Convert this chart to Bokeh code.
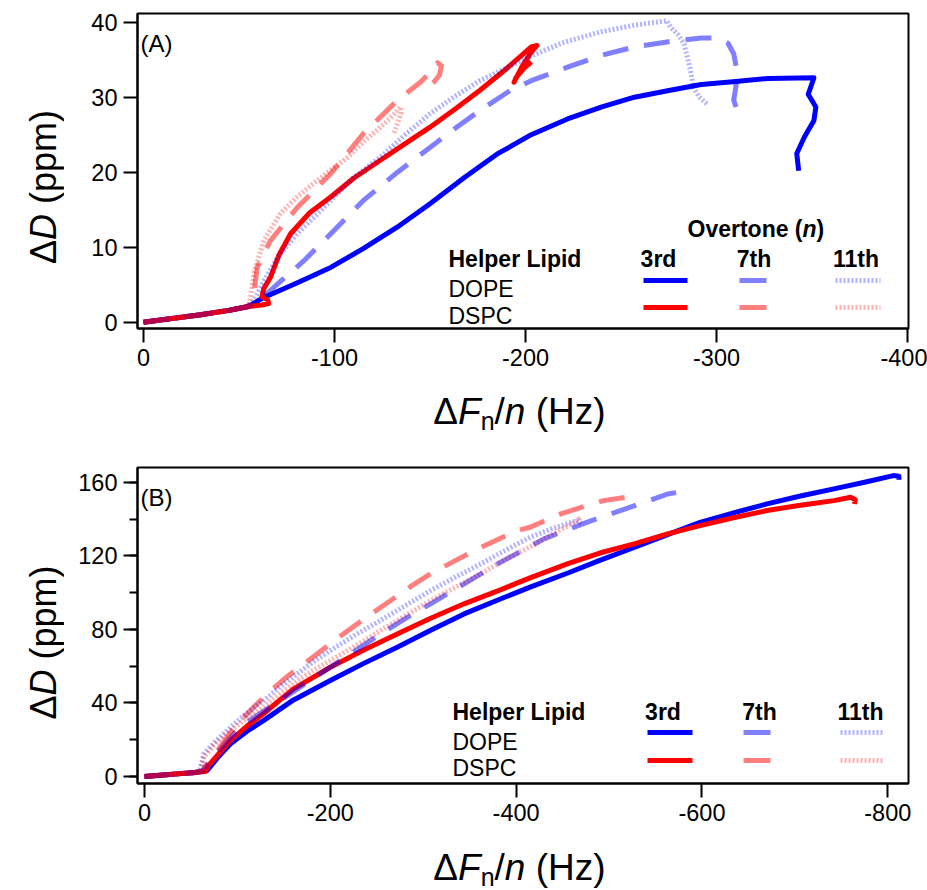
import math
from bokeh.plotting import figure
from bokeh.models import Range1d, SingleIntervalTicker, Label, PrintfTickFormatter
from bokeh.layouts import column, row
from bokeh.embed import file_html
from bokeh.resources import INLINE

# ---------------- data ----------------
# Panel A
a_dope_3_x = [0, -15, -30, -45, -55, -63, -80, -98, -115, -133, -150, -168, -185, -203, -222, -240, -257, -275, -292, -310, -327, -351, -348, -352, -351, -346, -342, -343]
a_dope_3_y = [0, 0.5, 1.0, 1.6, 2.1, 3.3, 5.2, 7.3, 9.8, 12.7, 15.8, 19.3, 22.4, 25.0, 27.1, 28.7, 30.0, 30.9, 31.7, 32.1, 32.5, 32.6, 30.4, 28.7, 26.9, 24.7, 22.5, 20.2]
a_dope_7_x = [0, -15, -30, -45, -55, -62, -72, -84, -100, -115, -133, -150, -165, -176, -192, -203, -222, -240, -257, -275, -292, -300, -306, -309, -311, -310, -309, -312.6]
a_dope_7_y = [0, 0.5, 1.0, 1.6, 2.1, 3.2, 5.5, 8.2, 12.3, 16.2, 20.0, 23.3, 26.2, 28.2, 30.9, 32.2, 34.0, 35.6, 36.7, 37.4, 37.9, 37.9, 37.2, 35.8, 33.1, 31.2, 29.6, 26.9]
a_dope_11_x = [0, -15, -30, -45, -55, -58, -63, -70, -80.5, -98, -110, -124, -137, -150, -163, -176, -190, -203, -220, -239, -257, -274, -276, -280, -283, -286, -288, -291, -295]
a_dope_11_y = [0, 0.5, 1.0, 1.6, 2.1, 3.0, 5.5, 8.6, 11.8, 16.2, 19.3, 22.0, 25.0, 27.8, 30.1, 32.2, 33.9, 35.5, 37.3, 38.7, 39.6, 40.2, 39.3, 38.3, 37.1, 34.0, 31.3, 30.0, 29.1]
a_dspc_3_x = [0, -15, -30, -45, -55, -62, -65.5, -65, -62, -63, -66.5, -71, -77, -87, -98, -110, -124, -137, -150, -163, -176, -190, -203, -206, -203, -198, -194, -195, -199, -203]
a_dspc_3_y = [0, 0.5, 1.0, 1.6, 2.1, 2.3, 2.5, 3.0, 3.4, 4.5, 6.0, 9.0, 11.8, 14.6, 16.7, 19.2, 21.6, 23.8, 26.0, 28.4, 30.9, 33.8, 36.7, 36.9, 36.0, 34.0, 32.0, 32.6, 33.8, 34.7]
a_dspc_7_x = [0, -15, -30, -45, -55, -57.8, -59.5, -66.5, -80.5, -98, -115, -133, -145, -150, -154, -156, -155, -152, -148, -146]
a_dspc_7_y = [0, 0.5, 1.0, 1.6, 2.1, 3.8, 7.3, 10.9, 15.3, 19.8, 25.1, 29.6, 32.0, 33.3, 34.6, 34.2, 33.0, 32.0, 31.0, 30.3]
a_dspc_11_x = [0, -15, -30, -45, -55, -56, -57.8, -63, -71.7, -80, -89, -98, -107, -115, -124, -130, -134.6, -135, -133, -131]
a_dspc_11_y = [0, 0.5, 1.0, 1.6, 2.1, 3.3, 6.5, 10.9, 14.5, 16.6, 18.5, 20.3, 22.0, 24.0, 26.0, 27.4, 28.7, 28.0, 26.5, 25.1]

# Panel B
b_dope_3_x = [0, -20, -40, -55, -62, -67.5, -80, -92.6, -110, -128, -160, -200, -236, -272, -308, -344, -383, -415, -455, -490, -527, -563, -598, -635, -670, -706, -742, -775, -806, -812, -812]
b_dope_3_y = [0, 0.8, 1.6, 2.2, 2.8, 3.3, 11.0, 17.8, 24.5, 30.4, 41.5, 52.2, 61.5, 70.3, 79.5, 88.4, 96.5, 103.0, 110.5, 117.5, 124.5, 131.5, 138.2, 143.5, 148.2, 152.5, 156.4, 160.0, 163.6, 163.2, 161.3]
b_dope_7_x = [0, -20, -40, -55, -62, -70, -80, -90, -103, -125, -146, -173, -200, -227, -254, -281, -308, -345, -380, -390, -430, -476, -523, -563, -574]
b_dope_7_y = [0, 0.8, 1.6, 2.2, 2.8, 8.0, 14.0, 20.0, 26.8, 34.5, 41.3, 50.5, 59.4, 68.5, 77.5, 86.0, 93.9, 105.0, 115.6, 118.3, 129.2, 138.2, 146.4, 153.6, 154.5]
b_dope_11_x = [0, -20, -40, -55, -60, -63.9, -75, -92.6, -110, -128.4, -146, -164.4, -182, -200, -227, -254, -281, -308, -335, -362, -383, -415, -440, -466, -470]
b_dope_11_y = [0, 0.8, 1.6, 2.2, 4.0, 12.3, 18.5, 26.8, 34.5, 41.3, 48.8, 55.8, 62.5, 68.5, 77.0, 84.8, 93.0, 101.1, 108.5, 115.6, 121.5, 130.1, 135.0, 139.3, 137.5]
b_dspc_3_x = [0, -20, -40, -55, -62, -66, -67.5, -80, -92.6, -110, -128, -160, -200, -236, -272, -308, -344, -383, -415, -455, -490, -527, -563, -598, -635, -670, -706, -742, -760, -765, -764]
b_dspc_3_y = [0, 0.8, 1.6, 2.2, 2.6, 2.9, 5.1, 12.5, 19.6, 27.3, 34.1, 47.5, 59.4, 68.8, 77.5, 86.0, 93.9, 101.5, 108.0, 115.6, 121.5, 126.5, 131.9, 136.4, 140.8, 144.6, 147.5, 150.0, 151.8, 150.5, 148.2]
b_dspc_7_x = [0, -20, -40, -55, -62, -70, -80, -90, -100, -118, -136, -154, -172, -193, -214, -240, -265, -287, -308, -335, -362, -401, -415, -448, -494, -523]
b_dspc_7_y = [0, 0.8, 1.6, 2.2, 2.8, 8.5, 15.0, 22.0, 28.6, 38.0, 46.7, 54.5, 61.3, 69.5, 77.5, 87.0, 95.7, 103.5, 110.2, 117.5, 124.6, 133.7, 135.5, 142.8, 150.0, 152.2]
b_dspc_11_x = [0, -20, -40, -55, -60, -63.9, -75, -92.6, -110, -128.4, -146, -164.4, -182, -200, -227, -254, -281, -308, -335, -362, -383, -415.5, -440, -466, -470]
b_dspc_11_y = [0, 0.8, 1.6, 2.2, 3.5, 10.5, 17.0, 25.0, 31.5, 37.7, 45.0, 52.2, 57.8, 63.0, 71.0, 79.3, 87.5, 95.7, 103.0, 110.2, 116.5, 125.0, 132.0, 139.1, 140.9]

lipids = ["DOPE", "DSPC"]
overtones = ["3rd", "7th", "11th"]

# ---------------- styling ----------------
FONT = "Liberation Sans"
COLORS = {"DOPE": "#0000FF", "DSPC": "#FF0000"}
ALPHA = {"3rd": 1.0, "7th": 0.5, "11th": 0.3}
DASH = {"3rd": "solid", "7th": "26 16", "11th": "2 2"}
LW = 5

PAGE_W = 927
PAGE_H = 890
STRIP_W = 64        # left strip holding the rotated y title
FL = 137            # frame left (page px)
FW = 771            # frame width
FR = PAGE_W - FL - FW


def to_data(g, px, py):
    x0, x1 = g["xr"]
    y0, y1 = g["yr"]
    return (x0 + (px - FL) / FW * (x1 - x0), y1 - (py - g["ft"]) / g["fh"] * (y1 - y0))


def label(p, x, y, s, size, style="normal", align="left", baseline="alphabetic", angle=0.0):
    p.add_layout(Label(x=x, y=y, x_units="data", y_units="data", text=s,
                       text_font=FONT, text_font_size=f"{size}px", text_font_style=style,
                       text_align=align, text_baseline=baseline, text_color="black",
                       angle=angle))


def text(p, g, px, py, s, size, style="normal", align="left", baseline="alphabetic"):
    x, y = to_data(g, px, py)
    label(p, x, y, s, size, style, align, baseline)


def seg(p, g, px0, px1, py, color, alpha, dash):
    xa, ya = to_data(g, px0, py)
    xb, _ = to_data(g, px1, py)
    p.line([xa, xb], [ya, ya], line_color=color, line_alpha=alpha, line_width=LW, line_dash=dash)


def strip(w, h):
    s = figure(title=None, frame_width=w, frame_height=h, min_border=0,
               x_range=Range1d(0, w), y_range=Range1d(h, 0),
               x_axis_location=None, y_axis_location=None,
               output_backend="svg", toolbar_location=None)
    s.outline_line_color = None
    s.xgrid.visible = False
    s.ygrid.visible = False
    s.background_fill_color = "white"
    s.border_fill_color = "white"
    return s


def make_fig(g, top, bottom, xint, yint, yminor):
    p = figure(title=None, frame_width=FW, frame_height=g["fh"],
               min_border_left=FL - STRIP_W, min_border_right=FR,
               min_border_top=top, min_border_bottom=bottom,
               x_range=Range1d(*g["xr"]), y_range=Range1d(*g["yr"]),
               output_backend="svg", toolbar_location=None)
    p.xgrid.visible = False
    p.ygrid.visible = False
    p.background_fill_color = "white"
    p.border_fill_color = "white"
    p.outline_line_color = "black"
    p.outline_line_width = 2
    p.outline_line_alpha = 1
    p.xaxis.ticker = SingleIntervalTicker(interval=xint, num_minor_ticks=0)
    p.yaxis.ticker = SingleIntervalTicker(interval=yint, num_minor_ticks=yminor)
    for ax in (p.xaxis, p.yaxis):
        ax.formatter = PrintfTickFormatter(format="%d")
        ax.axis_line_width = 2
        ax.axis_line_color = "black"
        ax.major_tick_line_width = 2
        ax.minor_tick_line_width = 2
        ax.major_tick_line_color = "black"
        ax.minor_tick_line_color = "black"
        ax.major_tick_out = 14
        ax.major_tick_in = 0
        ax.minor_tick_out = 8
        ax.minor_tick_in = 0
        ax.major_label_text_font = FONT
        ax.major_label_text_font_size = "23.5px"
        ax.major_label_text_color = "black"
    p.xaxis.major_label_standoff = 6
    p.yaxis.major_label_standoff = 6
    if yminor == 0:
        p.yaxis.minor_tick_line_color = None
    p.xaxis.minor_tick_line_color = None
    return p


def add_curves(p, series):
    for (lip, ov), (xs, ys) in series:
        p.line(xs, ys, line_color=COLORS[lip], line_alpha=ALPHA[ov], line_width=LW,
               line_dash=DASH[ov], line_join="round")


def x_title(s, cx, base):
    # ΔF_n/n (Hz); (text, size, style, drop, advance)
    parts = [("Δ", 37, "normal", 0, 24.7), ("F", 37, "italic", 0, 22.6),
             ("n", 25, "normal", 9, 13.9), ("/", 37, "normal", 0, 10.3),
             ("n", 37, "italic", 0, 20.6 + 10.3), ("(Hz)", 37, "normal", 0, 69.9)]
    total = sum(w for *_, w in parts)
    x = cx - total / 2
    for t, size, style, dy, w in parts:
        label(s, x, base + dy, t, size, style)
        x += w


def y_title(s, cy, bx):
    # ΔD (ppm), rotated; (text, style, advance)
    parts = [("Δ", "normal", 24.03), ("D", "italic", 26.0 + 10.0), ("(ppm)", "normal", 94.0)]
    total = sum(w for *_, w in parts)
    y = cy + total / 2
    for t, style, w in parts:
        label(s, bx, y, t, 36, style, angle=math.pi / 2)
        y -= w


def legend(p, g, head, left, base, col_cx, row_base, row_line, seg_x):
    if head is not None:
        hx, hy = head
        text(p, g, hx, hy, "Overtone (", 23, "bold")
        text(p, g, hx + 115.0, hy, "n", 23, "bold italic")
        text(p, g, hx + 129.05, hy, ")", 23, "bold")
    text(p, g, left, base, "Helper Lipid", 23, "bold")
    for ov, cx in zip(overtones, col_cx):
        text(p, g, cx, base, ov, 23, "bold", align="center")
    for lip, rb, rl in zip(lipids, row_base, row_line):
        text(p, g, left, rb, lip, 23, "normal")
        for ov, (xa, xb) in zip(overtones, seg_x):
            dash = "solid" if ov != "11th" else DASH[ov]
            seg(p, g, xa, xb, rl, COLORS[lip], ALPHA[ov], dash)


# ---------------- panel A ----------------
A_TOP, A_FH, A_BOT = 13, 315, 50
gA = dict(ft=A_TOP, fh=A_FH, xr=(3.14, -400.5), yr=(-0.84, 41.16))
pA = make_fig(gA, A_TOP, A_BOT, 100, 10, 0)
add_curves(pA, [
    (("DOPE", "3rd"), (a_dope_3_x, a_dope_3_y)),
    (("DSPC", "3rd"), (a_dspc_3_x, a_dspc_3_y)),
    (("DOPE", "7th"), (a_dope_7_x, a_dope_7_y)),
    (("DSPC", "7th"), (a_dspc_7_x, a_dspc_7_y)),
    (("DOPE", "11th"), (a_dope_11_x, a_dope_11_y)),
    (("DSPC", "11th"), (a_dspc_11_x, a_dspc_11_y)),
])
text(pA, gA, 140, 43, "(A)", 24)
legend(pA, gA, (687, 228), 448, 258, (658, 753.5, 855.5), (288, 315), (280, 307),
       [(643, 687), (739, 766), (835, 880)])
hA = A_TOP + A_FH + A_BOT
yA = strip(STRIP_W, hA)
y_title(yA, A_TOP + A_FH / 2 + 3, 43)

B_TOP, B_FH, B_BOT = 14, 316, 50
B_ROW = 453                    # page y where panel B's row starts
XA_H = B_ROW - hA
xA = strip(PAGE_W, XA_H)
x_title(xA, 519, 411 - hA)

# ---------------- panel B ----------------
gB = dict(ft=B_ROW + B_TOP, fh=B_FH, xr=(7.53, -822.3), yr=(-3.8, 168.0))
pB = make_fig(gB, B_TOP, B_BOT, 200, 40, 2)
add_curves(pB, [
    (("DOPE", "3rd"), (b_dope_3_x, b_dope_3_y)),
    (("DSPC", "3rd"), (b_dspc_3_x, b_dspc_3_y)),
    (("DOPE", "7th"), (b_dope_7_x, b_dope_7_y)),
    (("DSPC", "7th"), (b_dspc_7_x, b_dspc_7_y)),
    (("DOPE", "11th"), (b_dope_11_x, b_dope_11_y)),
    (("DSPC", "11th"), (b_dspc_11_x, b_dspc_11_y)),
])
text(pB, gB, 140, 497, "(B)", 24)
legend(pB, gB, None, 452, 711.5, (662.5, 759, 860), (741.5, 767), (732, 760),
       [(647, 692), (743, 770), (840, 884)])
hB = B_TOP + B_FH + B_BOT
yB = strip(STRIP_W, hB)
y_title(yB, B_TOP + B_FH / 2 + 3, 43)
XB_TOP = B_ROW + hB
xB = strip(PAGE_W, PAGE_H - XB_TOP)
x_title(xB, 519, 867 - XB_TOP)

layout = column(row(yA, pA), xA, row(yB, pB), xB, spacing=0)
open("out.html", "w").write(file_html(layout, INLINE))
